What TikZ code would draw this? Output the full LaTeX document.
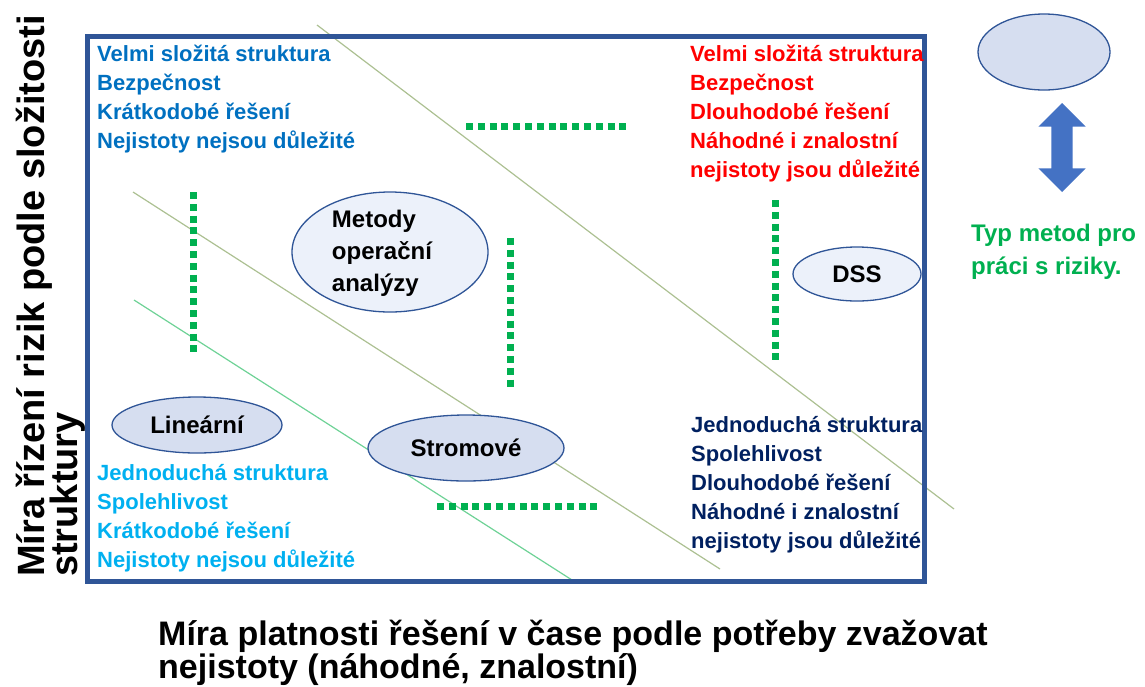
\documentclass[tikz,border=0pt]{standalone}
\usepackage{fontspec}
\setmainfont{Liberation Sans}
\usetikzlibrary{shapes.geometric,shapes.arrows}

\definecolor{framecol}{RGB}{47,85,151}
\definecolor{txtblue}{RGB}{0,112,192}
\definecolor{txtred}{RGB}{255,0,0}
\definecolor{txtcyan}{RGB}{0,176,240}
\definecolor{txtnavy}{RGB}{0,32,96}
\definecolor{dotgreen}{RGB}{0,176,80}
\definecolor{arrowblue}{RGB}{68,114,196}
\definecolor{palefill}{RGB}{236,241,250}
\definecolor{lightfill}{RGB}{214,222,240}
\definecolor{oliveline}{RGB}{172,192,146}
\definecolor{greenline}{RGB}{110,210,150}

\tikzset{
  method/.style={ellipse, draw=framecol, line width=1.3pt, fill=lightfill, inner sep=0pt,
    font=\fontsize{24}{32}\selectfont\bfseries},
  methodtxt/.style={inner sep=0pt, font=\fontsize{24}{32}\selectfont\bfseries},
  cornertxt/.style={anchor=base west, inner sep=0pt, font=\fontsize{22}{29}\selectfont\bfseries},
  axistxt/.style={anchor=base west, inner sep=0pt, font=\fontsize{34}{34}\selectfont\bfseries},
  dotline/.style={dotgreen, line width=7pt, dash pattern=on 7pt off 4.8pt},
  diagonal/.style={line width=1.2pt},
}

\begin{document}
\begin{tikzpicture}[x=1pt,y=-1pt]
\useasboundingbox (0,0) rectangle (1145,686);
%\draw[help lines, color=gray!30] (0,0) grid[step=50] (1145,686);
\draw[diagonal, oliveline] (317,25) -- (954,509);
\draw[diagonal, oliveline] (133,192) -- (720,569);
\draw[diagonal, greenline] (134,300) -- (572,580);
\draw[framecol, line width=5pt] (87.5,36) rectangle (924.5,581.5);

% dotted borders between method types
\draw[dotline] (466,126) -- (627,126);
\draw[dotline] (193,192) -- (193,353);
\draw[dotline] (510,238) -- (510,387);
\draw[dotline] (775,200) -- (775,361);
\draw[dotline] (437,506) -- (598,506);

% corner descriptions
\foreach \rowtext [count=\i] in {Velmi složitá struktura, Bezpečnost, Krátkodobé řešení, Nejistoty nejsou důležité}
  \node[cornertxt, txtblue] (tl\i) at (97, 32+29*\i) {\rowtext};
\foreach \rowtext [count=\i] in {Velmi složitá struktura, Bezpečnost, Dlouhodobé řešení, Náhodné i znalostní, nejistoty jsou důležité}
  \node[cornertxt, txtred] (tr\i) at (690, 32+29*\i) {\rowtext};
\foreach \rowtext [count=\i] in {Jednoduchá struktura, Spolehlivost, Krátkodobé řešení, Nejistoty nejsou důležité}
  \node[cornertxt, txtcyan] (bl\i) at (97, 451+29*\i) {\rowtext};
\foreach \rowtext [count=\i] in {Jednoduchá struktura, Spolehlivost, Dlouhodobé řešení, Náhodné i znalostní, nejistoty jsou důležité}
  \node[cornertxt, txtnavy] (br\i) at (691, 403+29*\i) {\rowtext};

% method types
\node[method, fill=palefill, minimum width=196, minimum height=120] (metody) at (390,252) {};
\node[methodtxt, align=left] (metodytxt) at (382,253) {Metody\\operační\\analýzy};
\node[method, fill=palefill, minimum width=128, minimum height=54] (dss) at (857,274) {DSS};
\node[method, minimum width=170, minimum height=56] (linear) at (197,425) {Lineární};
\node[method, minimum width=196, minimum height=66] (strom) at (466,448) {Stromové};

% legend
\node[method, minimum width=132, minimum height=76] (legend) at (1044,52) {};
\node[double arrow, fill=arrowblue, rotate=90, inner sep=10.5pt,
  double arrow head extend=13, minimum height=89] (legarrow) at (1062,147.5) {};
\node[cornertxt, dotgreen, font=\fontsize{24}{33}\selectfont\bfseries] (legtxt1) at (971,241) {Typ metod pro};
\node[cornertxt, dotgreen, font=\fontsize{24}{33}\selectfont\bfseries] (legtxt2) at (971,274) {práci s riziky.};

% axis titles
\node[axistxt, rotate=90, font=\fontsize{38}{38}\selectfont\bfseries] (ylab1) at (44,577) {Míra řízení rizik podle složitosti};
\node[axistxt, rotate=90, font=\fontsize{38}{38}\selectfont\bfseries] (ylab2) at (77,577) {struktury};
\node[axistxt] (xlab1) at (158,645) {Míra platnosti řešení v čase podle potřeby zvažovat};
\node[axistxt] (xlab2) at (158,678) {nejistoty (náhodné, znalostní)};
\end{tikzpicture}
\end{document}
